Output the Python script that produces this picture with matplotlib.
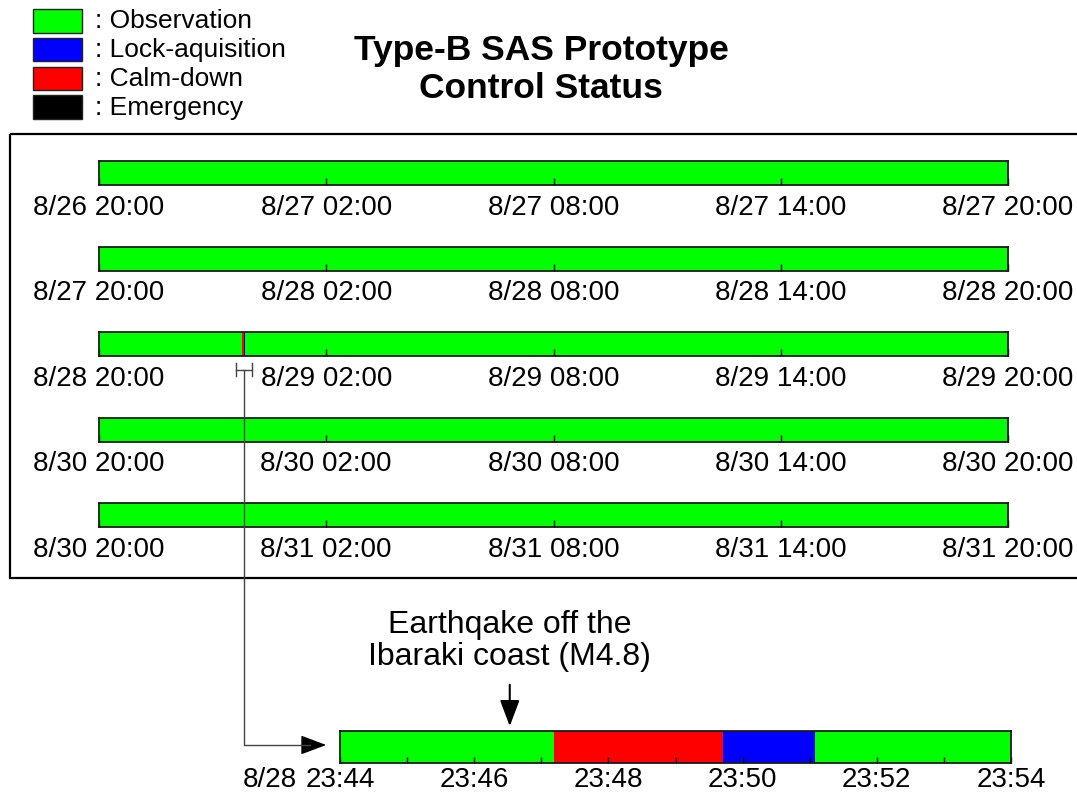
import matplotlib
matplotlib.use("Agg")
import matplotlib.pyplot as plt
from matplotlib.patches import Rectangle, FancyArrowPatch

plt.rcParams['font.family'] = ['Liberation Sans', 'DejaVu Sans']

W, H = 1077, 794

# legend
status_names = ["Observation", "Lock-aquisition", "Calm-down", "Emergency"]
status_colors = ["#00ff00", "#0000ff", "#ff0000", "#000000"]

# one row per day, hours after 20:00
row_ticks = [0, 6, 12, 18, 24]
row_labels = [
    ["8/26 20:00", "8/27 02:00", "8/27 08:00", "8/27 14:00", "8/27 20:00"],
    ["8/27 20:00", "8/28 02:00", "8/28 08:00", "8/28 14:00", "8/28 20:00"],
    ["8/28 20:00", "8/29 02:00", "8/29 08:00", "8/29 14:00", "8/29 20:00"],
    ["8/30 20:00", "8/30 02:00", "8/30 08:00", "8/30 14:00", "8/30 20:00"],
    ["8/30 20:00", "8/31 02:00", "8/31 08:00", "8/31 14:00", "8/31 20:00"],
]

# zoomed window 8/28 23:44 - 23:54, minutes after 23:44
zoom_row = 2
zoom_offset_h = 3 + 44 / 60
seg_start = [0.0, 3.19, 5.71, 7.08]
seg_end = [3.19, 5.71, 7.08, 10.0]
seg_status = ["Observation", "Calm-down", "Lock-aquisition", "Observation"]
zoom_ticks = [0, 2, 4, 6, 8, 10]
zoom_labels = ["23:44", "23:46", "23:48", "23:50", "23:52", "23:54"]
zoom_date = "8/28"
quake_min = 2.53
quake_text = ["Earthqake off the", "Ibaraki coast (M4.8)"]

color_of = dict(zip(status_names, status_colors))

fig = plt.figure(figsize=(W / 100, H / 100), dpi=100)


def px_axes(x0, y0, x1, y1, **kw):
    return fig.add_axes([x0 / W, 1 - y1 / H, (x1 - x0) / W, (y1 - y0) / H], **kw)


def style_bar(ax):
    ax.set_ylim(0, 1)
    ax.set_yticks([])
    for s in ax.spines.values():
        s.set_linewidth(1.3)
        s.set_color('#1a1a1a')
        s.set_zorder(3)


row_axes = []
for i, labels in enumerate(row_labels):
    top = 161 + i * 85.5
    ax = px_axes(99, top, 1008, top + 24)
    segs = [(0, 24, "Observation")]
    if i == zoom_row:
        segs = [(0, zoom_offset_h + seg_start[0] / 60, "Observation")]
        for s, e, st in zip(seg_start, seg_end, seg_status):
            segs.append((zoom_offset_h + s / 60, zoom_offset_h + e / 60, st))
        segs.append((zoom_offset_h + seg_end[-1] / 60, 24, "Observation"))
    for s, e, st in segs:
        ax.broken_barh([(s, e - s)], (0, 1), facecolors=color_of[st],
                       edgecolor='none', antialiased=False)
    ax.set_xlim(0, 24)
    style_bar(ax)
    ax.set_xticks(row_ticks)
    ax.set_xticklabels(labels)
    ax.tick_params(axis='x', direction='in', length=5, width=1, labelsize=20, pad=7)
    row_axes.append(ax)

# zoomed bar
az = px_axes(340, 731, 1011, 763)
for s, e, st in zip(seg_start, seg_end, seg_status):
    az.broken_barh([(s, e - s)], (0, 1), facecolors=color_of[st], edgecolor='none')
az.set_xlim(zoom_ticks[0], zoom_ticks[-1])
style_bar(az)
az.set_xticks(zoom_ticks)
az.set_xticklabels(zoom_labels)
az.set_xticks(range(zoom_ticks[0], zoom_ticks[-1] + 1), minor=True)
az.tick_params(axis='x', which='both', direction='in', length=4.3, width=1, labelsize=20, pad=3)
az.annotate(zoom_date, xy=(zoom_ticks[0], 0), xycoords=('data', 'axes fraction'),
            xytext=(-43, -4), textcoords='offset pixels', ha='right', va='top', fontsize=20)

# overlay in pixel coordinates
ov = fig.add_axes([0, 0, 1, 1], zorder=5)
ov.set_xlim(0, W)
ov.set_ylim(H, 0)
ov.axis('off')
ov.patch.set_alpha(0)

ov.add_patch(Rectangle((10, 134), 1100, 444, fill=False, lw=1.6, edgecolor='black'))

# legend
for i, (name, c) in enumerate(zip(status_names, status_colors)):
    y = 9 + i * 28.8
    ov.add_patch(Rectangle((33, y), 49, 23.5, facecolor=c, edgecolor='#222222', lw=1))
    ov.text(95, y + 12.5, ": " + name, fontsize=19, va='center', ha='left')

# title
ov.text(541, 60, "Type-B SAS Prototype", ha='center', va='baseline', fontsize=25.5, weight='bold')
ov.text(541, 98, "Control Status", ha='center', va='baseline', fontsize=25.5, weight='bold')


def to_ov(ax, x, y):
    p = ax.transData.transform((x, y))
    return ov.transData.inverted().transform(p)


# connector from day bar to zoomed bar
cx, _ = to_ov(row_axes[zoom_row], zoom_offset_h + zoom_ticks[-1] / 2 / 60, 0)
by = 370
ov.plot([cx - 8, cx + 8], [by, by], color='#444444', lw=1)
ov.plot([cx - 8, cx - 8], [by - 7, by + 6], color='#444444', lw=1)
ov.plot([cx + 8, cx + 8], [by - 7, by + 6], color='#444444', lw=1)
zx0, zy = to_ov(az, zoom_ticks[0], 0.5)
ov.plot([cx, cx, zx0 - 30], [by, zy - 2, zy - 2], color='#444444', lw=1)
ov.add_patch(FancyArrowPatch((zx0 - 35, zy - 2), (zx0 - 11, zy - 2),
                             arrowstyle='-|>,head_length=1.6,head_width=0.6',
                             mutation_scale=10, color='black', lw=1))

# earthquake marker
qx, qy = to_ov(az, quake_min, 1)
ov.add_patch(FancyArrowPatch((qx, qy - 49), (qx, qy - 2),
                             arrowstyle='-|>,head_length=1.6,head_width=0.6',
                             mutation_scale=10, color='black', lw=1.5))
ov.text(qx, 633, quake_text[0], ha='center', va='baseline', fontsize=23)
ov.text(qx, 665, quake_text[1], ha='center', va='baseline', fontsize=23)

fig.savefig('out.png', dpi=100)
